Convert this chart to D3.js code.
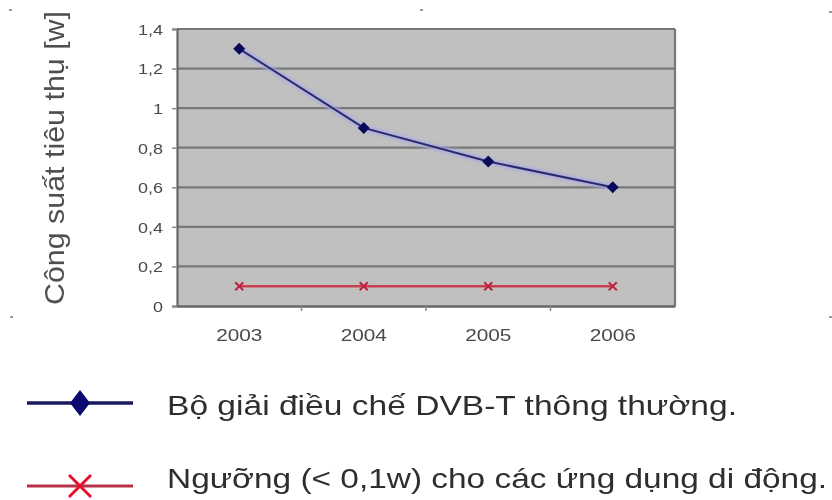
<!DOCTYPE html>
<html>
<head>
<meta charset="utf-8">
<script src="https://cdn.jsdelivr.net/npm/d3@7"></script>
<style>
  html, body { margin: 0; padding: 0; background: #fff; }
  svg { display: block; }
  text { font-family: "Liberation Sans", Arial, sans-serif; }
</style>
</head>
<body>
<svg id="chart" width="832" height="500"></svg>
<script>
// Power consumption of DVB-T demodulators by year
const years = ["2003", "2004", "2005", "2006"];
const demodPower = [1.3, 0.9, 0.73, 0.6];
const mobileThreshold = [0.1, 0.1, 0.1, 0.1];
const yTicks = [0, 0.2, 0.4, 0.6, 0.8, 1, 1.2, 1.4];
const yTitle = "Công suất tiêu thụ [w]";
const legendLabels = [
  "Bộ giải điều chế DVB-T thông thường.",
  "Ngưỡng (< 0,1w) cho các ứng dụng di động."
];

const svg = d3.select("#chart");
const plot = { left: 177, top: 29, right: 675, bottom: 306 };
const yStretch = 1.2;  // wide lettering used for the value labels
const xStretch = 1.3;  // and for the year labels

const x = d3.scaleBand().domain(years).range([plot.left, plot.right]);
const y = d3.scaleLinear().domain([0, 1.4]).range([plot.bottom, plot.top]);
const cx = d => x(d) + x.bandwidth() / 2;
const fmt = v => String(v).replace(".", ",");

// soft halo used around the series lines
const defs = svg.append("defs");
defs.append("filter").attr("id", "halo")
  .attr("x", "-10%").attr("y", "-50%").attr("width", "120%").attr("height", "200%")
  .append("feGaussianBlur").attr("stdDeviation", 1.6);
defs.append("filter").attr("id", "soft")
  .append("feGaussianBlur").attr("stdDeviation", 0.45);

// plot background
svg.append("rect")
  .attr("x", plot.left).attr("y", plot.top)
  .attr("width", plot.right - plot.left).attr("height", plot.bottom - plot.top)
  .attr("fill", "#c0c0c0");

// horizontal gridlines (top one doubles as the frame edge)
svg.append("g").selectAll("line").data(yTicks.filter(t => t > 0)).join("line")
  .attr("x1", plot.left).attr("x2", plot.right)
  .attr("y1", d => y(d)).attr("y2", d => y(d))
  .attr("stroke", "#777").attr("stroke-width", 2.2);

// right frame edge
svg.append("line").attr("x1", plot.right).attr("x2", plot.right)
  .attr("y1", plot.top).attr("y2", plot.bottom)
  .attr("stroke", "#777").attr("stroke-width", 2.2);

// y axis
const yAxis = d3.axisLeft(y).tickValues(yTicks).tickFormat(fmt).tickSize(5).tickPadding(0);
const gy = svg.append("g").attr("transform", `translate(${plot.left},0)`).call(yAxis);
gy.select(".domain").attr("stroke", "#666").attr("stroke-width", 2.2);
gy.selectAll(".tick line").attr("stroke", "#8a8a8a").attr("stroke-width", 1.5);
gy.selectAll(".tick text")
  .attr("fill", "#4a4a4a").attr("font-size", 15)
  .attr("x", -14 / yStretch).attr("dy", "0.36em")
  .attr("transform", `scale(${yStretch},1)`)
  .attr("filter", "url(#soft)")
  .style("font-family", "'Liberation Sans', Arial, sans-serif");

// x axis
const xAxis = d3.axisBottom(x).tickSize(0).tickPadding(0);
const gx = svg.append("g").attr("transform", `translate(0,${plot.bottom})`).call(xAxis);
gx.select(".domain").attr("stroke", "#666").attr("stroke-width", 2.5);
gx.selectAll(".tick text")
  .attr("fill", "#4a4a4a").attr("font-size", 16)
  .attr("y", 35).attr("dy", 0)
  .attr("transform", `scale(${xStretch},1)`)
  .attr("filter", "url(#soft)")
  .style("font-family", "'Liberation Sans', Arial, sans-serif");

// small tick marks between categories
svg.append("g").selectAll("line").data(years.slice(1)).join("line")
  .attr("x1", d => x(d)).attr("x2", d => x(d))
  .attr("y1", plot.bottom).attr("y2", plot.bottom + 5)
  .attr("stroke", "#8a8a8a").attr("stroke-width", 1.5);

// y-axis title
svg.append("text")
  .attr("transform", `translate(64,${158}) rotate(-90)`)
  .attr("text-anchor", "middle")
  .attr("font-size", 28)
  .attr("textLength", 294).attr("lengthAdjust", "spacingAndGlyphs")
  .attr("fill", "#505050")
  .attr("filter", "url(#soft)")
  .text(yTitle);

const line = d3.line().x((d, i) => cx(years[i])).y(d => y(d));

// threshold series (red with x markers)
svg.append("path").datum(mobileThreshold).attr("d", line)
  .attr("fill", "none").attr("stroke", "#f48a9a").attr("stroke-width", 7).attr("opacity", 0.7).attr("filter", "url(#halo)");
svg.append("path").datum(mobileThreshold).attr("d", line)
  .attr("fill", "none").attr("stroke", "#c8404e").attr("stroke-width", 2.5);
const xMark = s => `M${-s},${-s}L${s},${s}M${-s},${s}L${s},${-s}`;
svg.append("g").selectAll("path").data(mobileThreshold).join("path")
  .attr("transform", (d, i) => `translate(${cx(years[i])},${y(d)})`)
  .attr("d", xMark(4)).attr("stroke", "#c02040").attr("stroke-width", 2).attr("fill", "none");

// demodulator series (navy with diamonds)
svg.append("path").datum(demodPower).attr("d", line)
  .attr("fill", "none").attr("stroke", "#a8a8e8").attr("stroke-width", 6).attr("opacity", 0.8).attr("filter", "url(#halo)");
svg.append("path").datum(demodPower).attr("d", line)
  .attr("fill", "none").attr("stroke", "#2a2a6a").attr("stroke-width", 2);
const diamond = (w, h) => `M0,${-h}L${w},0L0,${h}L${-w},0Z`;
svg.append("g").selectAll("path").data(demodPower).join("path")
  .attr("transform", (d, i) => `translate(${cx(years[i])},${y(d)})`)
  .attr("d", diamond(6, 6)).attr("fill", "#0a0a5a");

// legend
const legend = svg.append("g");
const legendY = [403, 486];
const legendBase = [415, 488];
const legendWidth = [570, 660];
// navy entry
legend.append("line").attr("x1", 27).attr("x2", 133).attr("y1", legendY[0]).attr("y2", legendY[0])
  .attr("stroke", "#1a1a60").attr("stroke-width", 3.5);
legend.append("path").attr("transform", `translate(80,${legendY[0]})`)
  .attr("d", diamond(10, 13)).attr("fill", "#0a0a70");
// red entry
legend.append("line").attr("x1", 27).attr("x2", 133).attr("y1", legendY[1]).attr("y2", legendY[1])
  .attr("stroke", "#f3a0ad").attr("stroke-width", 7).attr("filter", "url(#halo)");
legend.append("line").attr("x1", 27).attr("x2", 133).attr("y1", legendY[1]).attr("y2", legendY[1])
  .attr("stroke", "#b83048").attr("stroke-width", 3);
legend.append("path").attr("transform", `translate(80,${legendY[1]})`)
  .attr("d", "M-11,-11L11,11M-11,11L11,-11").attr("stroke", "#e8102a").attr("stroke-width", 3).attr("fill", "none");

legend.selectAll("text.lbl").data(legendLabels).join("text")
  .attr("class", "lbl")
  .attr("x", 167)
  .attr("y", (d, i) => legendBase[i])
  .attr("font-size", 28)
  .attr("textLength", (d, i) => legendWidth[i]).attr("lengthAdjust", "spacingAndGlyphs")
  .attr("fill", "#2e2e2e")
  .attr("filter", "url(#soft)")
  .text(d => d);

// small specks near the edges of the slide
svg.append("g").selectAll("rect").data([[9, 9], [10, 316], [420, 9], [829, 11], [829, 316]]).join("rect")
  .attr("x", d => d[0]).attr("y", d => d[1]).attr("width", 3).attr("height", 2)
  .attr("fill", "#555").attr("opacity", 0.6);
</script>
</body>
</html>
